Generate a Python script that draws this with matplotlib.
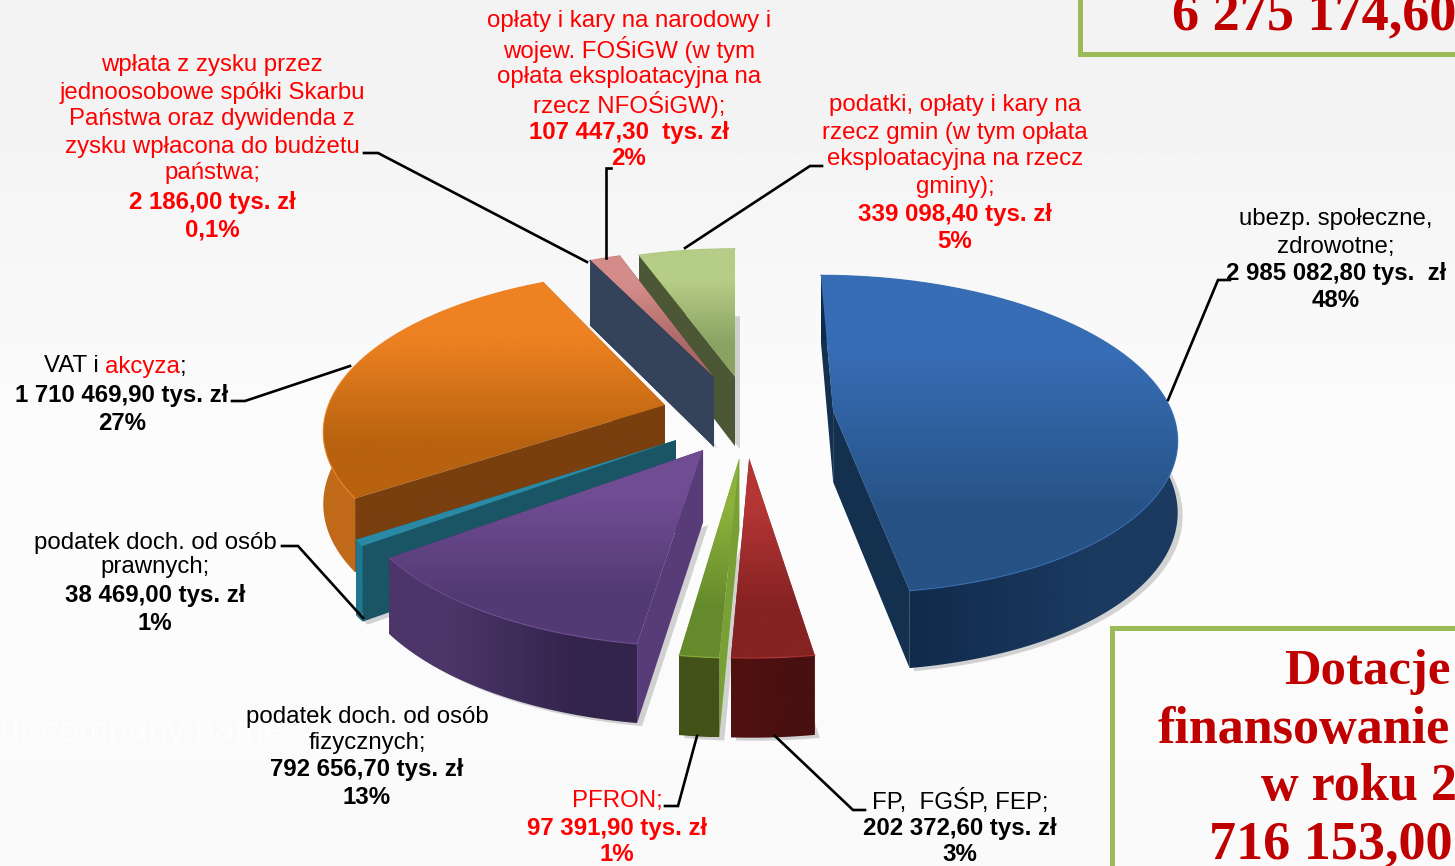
import numpy as np
import matplotlib
matplotlib.use('Agg')
import matplotlib.pyplot as plt
from matplotlib.colors import to_rgb
from matplotlib.patches import Polygon

# thousand PLN, clockwise from 12 o'clock
sliceNames = ['ubezp', 'fp', 'pfron', 'fizyczne', 'prawne', 'vat', 'wplata', 'oplaty', 'gminy']
sliceValues = [2985082.80, 202372.60, 97391.90, 792656.70, 38469.00, 1710469.90, 2186.00, 107447.30, 339098.40]
boxTop = '6 275 174,60'
boxBottom = ['Dotacje', 'finansowanie', 'w roku 2', '716 153,00']

# explode offset of each slice on the pie plane
offsets = {'ubezp': (0.29, 0.03), 'fp': (0.04, -0.26), 'pfron': (0.012, -0.26), 'fizyczne': (-0.091, -0.21),
           'prawne': (-0.17, -0.15), 'vat': (-0.208, 0.07), 'wplata': (-0.064, 0.255), 'oplaty': (-0.064, 0.255),
           'gminy': (0.0, 0.26)}
# top light, top dark, start wall, end wall, rim left, rim right
colours = {'ubezp': ('#376db5', '#265285', '#14304f', '#14304f', '#102a4a', '#1b3a60'),
           'fp': ('#b53535', '#852222', '#7a1f1f', '#7a1f1f', '#4f1010', '#481010'),
           'pfron': ('#8cb23c', '#658a2c', '#78a035', '#78a035', '#425218', '#425218'),
           'fizyczne': ('#704c93', '#523a74', '#573c78', '#3a2a52', '#4c3568', '#33244c'),
           'prawne': ('#2a8aa5', '#2a8aa5', '#1a5565', '#1a5565', '#1f7790', '#1f7790'),
           'vat': ('#ee8222', '#b8620f', '#7a3f0e', '#7a3f0e', '#c06a1a', '#a85a12'),
           'wplata': ('#34435a', '#34435a', '#34435a', '#34435a', '#34435a', '#34435a'),
           'oplaty': ('#d38c8a', '#ab6866', '#643a3a', '#643a3a', '#643a3a', '#643a3a'),
           'gminy': ('#b5cd86', '#8aa262', '#4c5735', '#4c5735', '#4c5735', '#4c5735')}
drawOrder = ['gminy', 'oplaty', 'wplata', 'vat', 'prawne', 'fizyczne', 'pfron', 'fp', 'ubezp']

W, H = 1455, 866
CX, CY = 735.0, 416.0
A, B = 340.0, 157.0
P = 0.145
DEPTH = 71.0
SIZE = 17.3

fig = plt.figure(figsize=(W / 100, H / 100), dpi=100)
ax = fig.add_axes([0, 0, 1, 1])
ax.set_xlim(0, W)
ax.set_ylim(H, 0)
ax.set_autoscale_on(False)
ax.axis('off')


def project(x, y, level=0.0):
    """ Plane coordinates to pixels, level 1 is the bottom face """
    w = 1.0 / (1.0 + P * y)
    return np.column_stack((CX + A * x * w, CY - B * y * w + level * DEPTH * w ** 0.57))


def gradFill(poly, c1, c2, vertical, z):
    x0, y0 = poly.min(axis=0)
    x1, y1 = poly.max(axis=0)
    c = np.array([to_rgb(c1), to_rgb(c2)])
    arr = c[:, None, :] if vertical else c[None, :, :]
    im = ax.imshow(arr, extent=(x0, x1 + 0.01, y1 + 0.01, y0), aspect='auto', interpolation='bilinear', zorder=z)
    im.set_clip_path(Polygon(poly, closed=True, transform=ax.transData))


def drawSlice(name, a0, a1, z):
    ox, oy = offsets[name]
    c = colours[name]
    n = max(int((a1 - a0) * 60), 6)
    t = np.linspace(a0, a1, n)
    ax_, ay_ = ox + np.sin(t), oy + np.cos(t)
    px, py = np.array([ox]), np.array([oy])
    topRim = project(ax_, ay_)
    botRim = project(ax_, ay_, 1)
    apexTop = project(px, py)
    apexBot = project(px, py, 1)
    # soft shadow under the bottom face
    shadow = np.vstack((apexBot, botRim)) + np.array([5, 3])
    ax.add_patch(Polygon(shadow, closed=True, fc='#555555', ec='none', alpha=0.25, zorder=z))
    walls = [(oy + 0.5 * np.cos(a0), np.vstack((apexTop, topRim[:1], botRim[:1], apexBot)), c[2], c[2], True),
             (oy + 0.5 * np.cos(a1), np.vstack((apexTop, topRim[-1:], botRim[-1:], apexBot)), c[3], c[3], True),
             (oy + np.cos(0.5 * (a0 + a1)), np.vstack((topRim, botRim[::-1])), c[4], c[5], False)]
    for w in sorted(walls, key=lambda v: -v[0]):
        z += 0.01
        gradFill(w[1], w[2], w[3], w[4], z)
    gradFill(np.vstack((apexTop, topRim)), c[0], c[1], True, z + 0.01)
    # thin bevel along the rim
    ax.plot(topRim[:, 0], topRim[:, 1], color=c[0], lw=0.9, alpha=0.8, zorder=z + 0.02)


def writeLines(lines, cx):
    for txt, y, col, weight in lines:
        ax.text(cx, y + 1.5, txt, color=col, fontsize=SIZE, fontweight=weight, ha='center', va='center',
                family='Liberation Sans', zorder=50)


# background
bg = np.array([[0.95], [0.968], [0.985], [0.985], [0.98]])
ax.imshow(bg, extent=(0, W, H, 0), aspect='auto', cmap='gray', vmin=0, vmax=1, interpolation='bilinear', zorder=0)
ax.text(0, 731, 'ur company name', color='#fefefe', fontsize=25.5, va='center', family='Liberation Sans', zorder=1)

shares = np.array(sliceValues) / np.sum(sliceValues)
ends = np.cumsum(shares) * 2 * np.pi
starts = np.concatenate(([0.0], ends[:-1]))
for i, name in enumerate(drawOrder):
    k = sliceNames.index(name)
    drawSlice(name, starts[k], ends[k], 10 + i)

# leader lines
leaders = [([685, 810, 822], [248, 166, 166]), ([606, 606, 611], [258, 168, 168]),
           ([587, 378, 364], [262, 153, 153]), ([1168, 1218, 1230], [400, 280, 280]),
           ([350, 245, 232], [366, 401, 401]), ([363, 298, 282], [618, 546, 546]),
           ([697, 678, 665], [736, 806, 806]), ([775, 853, 865], [736, 810, 810])]
for lx, ly in leaders:
    ax.plot(lx, ly, color='black', lw=1.9, zorder=40, solid_joinstyle='miter')

RED = '#ff0000'
K = 'black'
writeLines([('opłaty i kary na narodowy i', 20, RED, 'normal'), ('wojew. FOŚiGW (w tym', 48, RED, 'normal'),
            ('opłata eksploatacyjna na', 76, RED, 'normal'), ('rzecz NFOŚiGW);', 103, RED, 'normal'),
            ('107 447,30  tys. zł', 131, RED, 'bold'), ('2%', 157, RED, 'bold')], 629)
writeLines([('wpłata z zysku przez', 64, RED, 'normal'), ('jednoosobowe spółki Skarbu', 91, RED, 'normal'),
            ('Państwa oraz dywidenda z', 118, RED, 'normal'), ('zysku wpłacona do budżetu', 145, RED, 'normal'),
            ('państwa;', 172, RED, 'normal'), ('2 186,00 tys. zł', 201, RED, 'bold'), ('0,1%', 229, RED, 'bold')], 212)
writeLines([('podatki, opłaty i kary na', 104, RED, 'normal'), ('rzecz gmin (w tym opłata', 131, RED, 'normal'),
            ('eksploatacyjna na rzecz', 158, RED, 'normal'), ('gminy);', 185, RED, 'normal'),
            ('339 098,40 tys. zł', 213, RED, 'bold'), ('5%', 240, RED, 'bold')], 955)
writeLines([('ubezp. społeczne,', 218, K, 'normal'), ('zdrowotne;', 245, K, 'normal'),
            ('2 985 082,80 tys.  zł', 272, K, 'bold'), ('48%', 299, K, 'bold')], 1336)
writeLines([('1 710 469,90 tys. zł', 394, K, 'bold'), ('27%', 422, K, 'bold')], 122)
writeLines([('podatek doch. od osób', 541, K, 'normal'), ('prawnych;', 566, K, 'normal'),
            ('38 469,00 tys. zł', 594, K, 'bold'), ('1%', 622, K, 'bold')], 155)
writeLines([('podatek doch. od osób', 716, K, 'normal'), ('fizycznych;', 742, K, 'normal'),
            ('792 656,70 tys. zł', 768, K, 'bold'), ('13%', 796, K, 'bold')], 367)
writeLines([('PFRON;', 800, RED, 'normal'), ('97 391,90 tys. zł', 827, RED, 'bold'), ('1%', 853, RED, 'bold')], 617)
writeLines([('FP,  FGŚP, FEP;', 800, K, 'normal'), ('202 372,60 tys. zł', 827, K, 'bold'), ('3%', 853, K, 'bold')], 960)

# VAT label has a red word inside a black line
fig.canvas.draw()
rend = fig.canvas.get_renderer()
xpos = 44.0
for part, col in [('VAT i ', K), ('akcyza', RED), (';', K)]:
    tt = ax.text(xpos, 366.5, part, color=col, fontsize=SIZE, va='center', family='Liberation Sans', zorder=50)
    # trailing blank is not measured, so measure with a stop char
    probe = ax.text(0, 0, part + '.', fontsize=SIZE, family='Liberation Sans')
    dot = ax.text(0, 0, '.', fontsize=SIZE, family='Liberation Sans')
    xpos += probe.get_window_extent(rend).width - dot.get_window_extent(rend).width
    probe.remove()
    dot.remove()

# title boxes
GREEN = '#9bbb59'
ax.plot([1080, 1080, W + 5], [-5, 54, 54], color=GREEN, lw=3.6, zorder=45, solid_joinstyle='miter')
ax.plot([1112, 1112, W + 5], [H + 5, 628, 628], color=GREEN, lw=3.6, zorder=45, solid_joinstyle='miter')
DARK = '#c00000'
SERIF = 'Liberation Serif'
ax.text(1172, 16, boxTop, color=DARK, fontsize=39, fontweight='bold', family=SERIF, va='center', zorder=50)
for txt, x, y, s in zip(boxBottom, [1284, 1158, 1261, 1209], [672, 730, 787, 845], [36.5, 37.5, 37.5, 39]):
    ax.text(x, y, txt, color=DARK, fontsize=s, fontweight='bold', family=SERIF, va='center', zorder=50)

fig.savefig('out.png', dpi=100)
